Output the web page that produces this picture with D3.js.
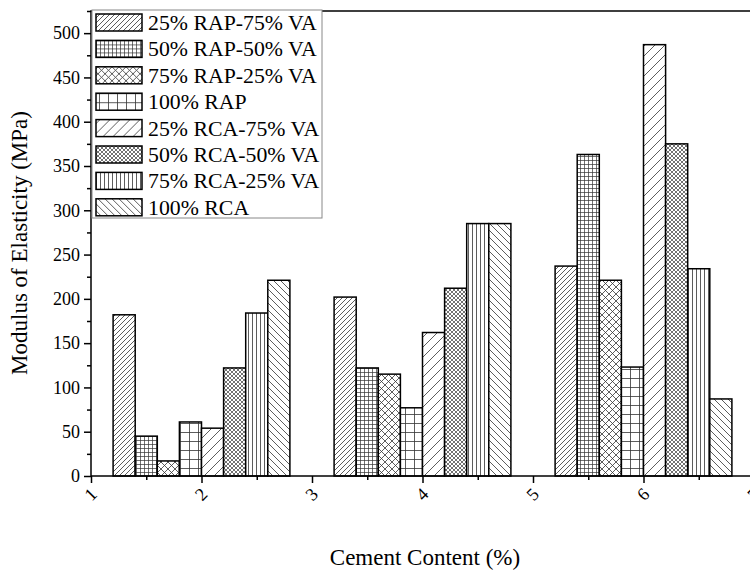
<!DOCTYPE html>
<html>
<head>
<meta charset="utf-8">
<script src="https://cdn.jsdelivr.net/npm/d3@7"></script>
<style>
  body { margin: 0; background: #fff; }
  svg { display: block; font-family: "Liberation Serif", "Times New Roman", serif; }
  svg text { font-family: "Liberation Serif", "Times New Roman", serif; }
</style>
</head>
<body>
<svg id="chart" width="750" height="578"></svg>
<script>
// data
const cementContent = [2, 4, 6];
const seriesNames = ["25% RAP-75% VA", "50% RAP-50% VA", "75% RAP-25% VA", "100% RAP",
                     "25% RCA-75% VA", "50% RCA-50% VA", "75% RCA-25% VA", "100% RCA"];
const modulusAt2 = [182, 45, 17, 61, 54, 122, 184, 221];
const modulusAt4 = [202, 122, 115, 77, 162, 212, 285, 285];
const modulusAt6 = [237, 363, 221, 123, 487, 375, 234, 87];
const xTicks = [1, 2, 3, 4, 5, 6, 7];
const yTicks = [0, 50, 100, 150, 200, 250, 300, 350, 400, 450, 500];

const modulus = [modulusAt2, modulusAt4, modulusAt6];
const bars = [];
cementContent.forEach((c, gi) => {
  seriesNames.forEach((s, si) => {
    bars.push({cc: c, si: si, name: s, value: modulus[gi][si]});
  });
});

const svg = d3.select("#chart");
const plotLeft = 91, plotRight = 754, plotTop = 11, plotBottom = 476;
const barW = 0.2;

const x = d3.scaleLinear().domain([1, 7]).range([plotLeft, plotRight]);
const y = d3.scaleLinear().domain([0, 525]).range([plotBottom, plotTop]);

// hatch patterns
const defs = svg.append("defs");
function pattern(id, size, d, w) {
  const p = defs.append("pattern")
    .attr("id", id)
    .attr("patternUnits", "userSpaceOnUse")
    .attr("width", size).attr("height", size);
  p.append("rect").attr("width", size).attr("height", size).attr("fill", "#fff");
  p.append("path").attr("d", d)
    .attr("stroke", "#333").attr("stroke-width", w || 0.8).attr("fill", "none");
}
function fwd(s) { return `M0,${s} L${s},0 M${-s/2},${s/2} L${s/2},${-s/2} M${s/2},${s*1.5} L${s*1.5},${s/2}`; }
function back(s) { return `M0,0 L${s},${s} M${-s/2},${s/2} L${s/2},${s*1.5} M${s/2},${-s/2} L${s*1.5},${s/2}`; }
function grid(s) { return `M0,0.5 H${s} M0.5,0 V${s}`; }

pattern("p0", 5, fwd(5));
pattern("p1", 4, grid(4), 0.7);
pattern("p2", 7, fwd(7) + back(7));
pattern("p3", 9, grid(9));
pattern("p4", 10, fwd(10));
pattern("p5", 4, fwd(4) + back(4), 0.7);
pattern("p6", 4, "M0.5,0 V4", 0.8);
pattern("p7", 7, back(7));

// bars
svg.append("g")
  .selectAll("rect")
  .data(bars)
  .enter()
  .append("rect")
  .attr("x", d => x(d.cc - 0.8 + barW * d.si))
  .attr("y", d => y(d.value))
  .attr("width", d => x(d.cc - 0.8 + barW * (d.si + 1)) - x(d.cc - 0.8 + barW * d.si))
  .attr("height", d => y(0) - y(d.value))
  .attr("fill", d => "url(#p" + d.si + ")")
  .attr("stroke", "#000")
  .attr("stroke-width", 1.5);

// axes
const yAxis = svg.append("g")
  .attr("transform", "translate(" + plotLeft + ",0)")
  .call(d3.axisLeft(y).tickValues(yTicks).tickSize(7).tickPadding(4).tickSizeOuter(0));
yAxis.select(".domain").remove();
yAxis.selectAll("text").attr("fill", "#000").style("font-size", "18px");
yAxis.selectAll("line").attr("stroke-width", 1.5);

const yMinor = svg.append("g")
  .attr("transform", "translate(" + plotLeft + ",0)")
  .call(d3.axisLeft(y).tickValues(d3.range(25, 526, 50)).tickSize(4).tickFormat(""));
yMinor.select(".domain").remove();
yMinor.selectAll("line").attr("stroke-width", 1.5);

const xAxis = svg.append("g")
  .attr("transform", "translate(0," + plotBottom + ")")
  .call(d3.axisBottom(x).tickValues(xTicks).tickSize(7).tickFormat(d3.format("d")));
xAxis.select(".domain").remove();
xAxis.selectAll("line").attr("stroke-width", 1.5);
xAxis.selectAll("text")
  .attr("fill", "#000")
  .style("font-size", "18px")
  .attr("y", 0)
  .attr("dy", "0.35em")
  .attr("text-anchor", "middle")
  .attr("transform", "translate(-1,18) rotate(-45)");

const xMinor = svg.append("g")
  .attr("transform", "translate(0," + plotBottom + ")")
  .call(d3.axisBottom(x).tickValues([1.5, 2.5, 3.5, 4.5, 5.5, 6.5]).tickSize(4).tickFormat(""));
xMinor.select(".domain").remove();
xMinor.selectAll("line").attr("stroke-width", 1.5);

// frame
svg.append("rect")
  .attr("x", plotLeft).attr("y", plotTop)
  .attr("width", plotRight - plotLeft).attr("height", plotBottom - plotTop)
  .attr("fill", "none").attr("stroke", "#000").attr("stroke-width", 1.5);

// axis titles
svg.append("text")
  .attr("x", 425)
  .attr("y", 565)
  .attr("text-anchor", "middle")
  .style("font-size", "23px")
  .text("Cement Content (%)");

svg.append("text")
  .attr("text-anchor", "middle")
  .attr("transform", "translate(27,243) rotate(-90)")
  .style("font-size", "23px")
  .text("Modulus of Elasticity (MPa)");

// legend
const legend = svg.append("g");
legend.append("rect")
  .attr("x", 92).attr("y", 10)
  .attr("width", 230).attr("height", 208)
  .attr("fill", "#fff").attr("stroke", "#888").attr("stroke-width", 1);

const item = legend.selectAll("g.item")
  .data(seriesNames)
  .enter()
  .append("g")
  .attr("class", "item")
  .attr("transform", (d, i) => "translate(0," + (14 + i * 26.4) + ")");
item.append("rect")
  .attr("x", 96).attr("y", 0)
  .attr("width", 46).attr("height", 17)
  .attr("fill", (d, i) => "url(#p" + i + ")")
  .attr("stroke", "#000").attr("stroke-width", 1.5);
item.append("text")
  .attr("x", 148).attr("y", 16)
  .style("font-size", "21.8px")
  .text(d => d);
</script>
</body>
</html>
